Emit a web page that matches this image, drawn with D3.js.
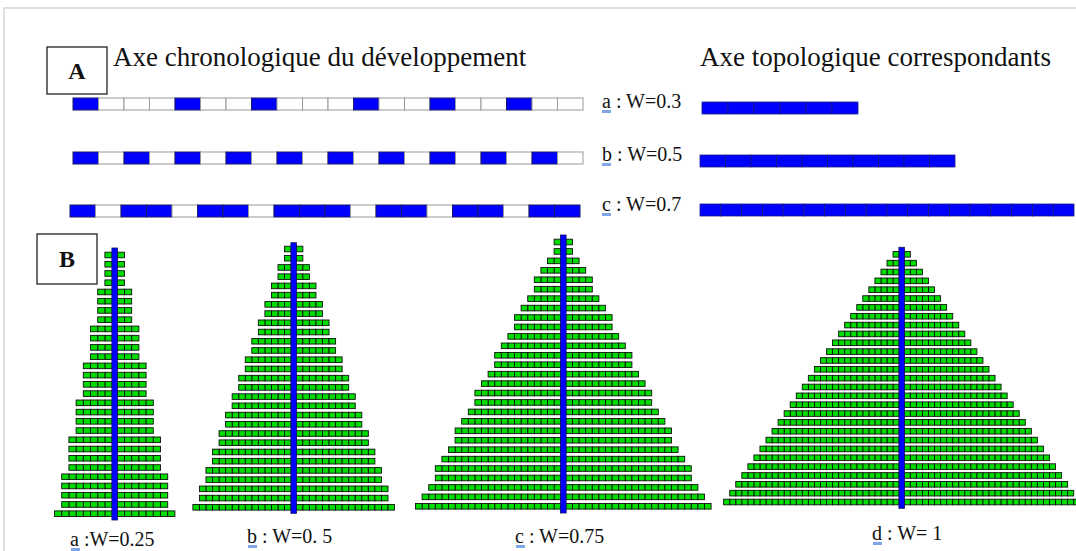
<!DOCTYPE html>
<html>
<head>
<meta charset="utf-8">
<script src="https://cdn.jsdelivr.net/npm/d3@7"></script>
<style>
  body { margin: 0; background: #fff; }
  text { font-family: "Liberation Serif", "Times New Roman", serif; fill: #111; }
</style>
</head>
<body>
<div class="chart"></div>
<script>
// Panel A : chronological axis (1 = blue cell, 0 = white cell)
let chronoRows = ["a", "b", "c"];
let chronoA = [1, 0, 0, 0, 1, 0, 0, 1, 0, 0, 0, 1, 0, 0, 1, 0, 0, 1, 0, 0];
let chronoB = [1, 0, 1, 0, 1, 0, 1, 0, 1, 0, 1, 0, 1, 0, 1, 0, 1, 0, 1, 0];
let chronoC = [1, 0, 1, 1, 0, 1, 1, 0, 1, 1, 1, 0, 1, 1, 0, 1, 1, 0, 1, 1];
let topoCells = [6, 10, 18];
let topoLabels = ["a : W=0.3", "b : W=0.5", "c : W=0.7"];

// Panel B : cells on each side of the axis, row by row from the top
let pyrA = [1, 1, 1, 1, 2, 2, 2, 2, 3, 3, 3, 3, 4, 4, 4, 4, 5, 5, 5, 5, 6, 6, 6, 6, 7, 7, 7, 7, 8];
let pyrB = [1, 1, 2, 2, 3, 3, 4, 4, 5, 5, 6, 6, 7, 7, 8, 8, 9, 9, 10, 10, 11, 11, 12, 12, 13, 13, 14, 14, 15];
let pyrC = [1, 1, 2, 3, 4, 4, 5, 6, 7, 7, 8, 9, 10, 10, 11, 12, 13, 13, 14, 15, 16, 16, 17, 18, 19, 19, 20, 21, 22];
let pyrD = [1, 2, 3, 4, 5, 6, 7, 8, 9, 10, 11, 12, 13, 14, 15, 16, 17, 18, 19, 20, 21, 22, 23, 24, 25, 26, 27, 28, 29];
let pyrLabels = ["a :W=0.25", "b : W=0. 5", "c : W=0.75", "d : W= 1"];

let blue = "#0000ff";
let green = "#00dc00";

let svg = d3
    .select(".chart")
    .append("svg")
    .attr("width", 1076)
    .attr("height", 551)
    .style("display", "block");

// light frame of the figure
svg.append("path")
    .attr("d", "M4,551 V8 H1076")
    .attr("fill", "none")
    .attr("stroke", "#d6d6d6")
    .attr("stroke-width", 1.5);

function letterBox(x, y, w, h, label) {
    svg.append("rect")
        .attr("x", x).attr("y", y)
        .attr("width", w).attr("height", h)
        .attr("fill", "none")
        .attr("stroke", "#222")
        .attr("stroke-width", 1.3);
    svg.append("text")
        .attr("x", x + w / 2)
        .attr("y", y + h / 2 + 8)
        .attr("text-anchor", "middle")
        .style("font-weight", "bold")
        .style("font-size", "24px")
        .text(label);
}

letterBox(47, 47, 60, 47, "A");
letterBox(37, 234, 60, 50, "B");

svg.append("text")
    .attr("x", 113).attr("y", 66)
    .style("font-size", "27px")
    .text("Axe chronologique du développement");

svg.append("text")
    .attr("x", 700).attr("y", 66)
    .style("font-size", "27px")
    .text("Axe topologique correspondants");

// ---- panel A
let chronoData = [chronoA, chronoB, chronoC];
let chronoY = d3.scaleOrdinal().domain(chronoRows).range([98, 152, 205]);
let chronoX = [
    d3.scaleBand().domain(d3.range(20)).range([73, 583]),
    d3.scaleBand().domain(d3.range(20)).range([73, 583]),
    d3.scaleBand().domain(d3.range(20)).range([70, 580])
];
let topoRange = [[702, 858], [700, 955], [700, 1074]];
let topoY = d3.scaleOrdinal().domain(chronoRows).range([102, 155, 204]);
let labelY = d3.scaleOrdinal().domain(chronoRows).range([108, 161, 211]);

chronoRows.forEach(function (key, r) {
    let x = chronoX[r];
    svg.append("g")
        .selectAll("rect")
        .data(chronoData[r])
        .enter()
        .append("rect")
        .attr("x", function (d, i) { return x(i); })
        .attr("y", chronoY(key))
        .attr("width", x.bandwidth())
        .attr("height", 12)
        .attr("fill", function (d) { return d ? blue : "#fff"; })
        .attr("stroke", function (d) { return d ? "#1a1a66" : "#999"; })
        .attr("stroke-width", 1);

    let tx = d3.scaleBand().domain(d3.range(topoCells[r])).range(topoRange[r]);
    svg.append("g")
        .selectAll("rect")
        .data(d3.range(topoCells[r]))
        .enter()
        .append("rect")
        .attr("x", function (d) { return tx(d); })
        .attr("y", topoY(key))
        .attr("width", tx.bandwidth())
        .attr("height", 12)
        .attr("fill", blue)
        .attr("stroke", "#1a1a80")
        .attr("stroke-width", 0.8);

    // spell-check mark under the letter
    svg.append("rect")
        .attr("x", 602).attr("y", labelY(key) + 2)
        .attr("width", 9).attr("height", 3)
        .attr("fill", "#7fa6e6");
    svg.append("text")
        .attr("x", 602).attr("y", labelY(key))
        .style("font-size", "20px")
        .text(topoLabels[r]);
});

// ---- panel B
let pyramids = [
    { rows: pyrA, cx: 114.7, cell: 7.2, top: 255, bottom: 513.7, a0: 248, a1: 520, lx: 70, ly: 546 },
    { rows: pyrB, cx: 293.7, cell: 6.55, top: 249, bottom: 507.3, a0: 242.7, a1: 513.3, lx: 247, ly: 543 },
    { rows: pyrC, cx: 563.3, cell: 6.6, top: 242, bottom: 506.3, a0: 235, a1: 513, lx: 515, ly: 543 },
    { rows: pyrD, cx: 901.7, cell: 6.05, top: 254.3, bottom: 502, a0: 247.3, a1: 508.3, lx: 872, ly: 540 }
];

pyramids.forEach(function (p, k) {
    let y = d3.scaleLinear().domain([0, p.rows.length - 1]).range([p.top, p.bottom]);
    let x = d3.scaleLinear().domain([0, 1]).range([p.cx + 2.6, p.cx + 2.6 + p.cell]);
    let xl = d3.scaleLinear().domain([0, 1]).range([p.cx - 2.6, p.cx - 2.6 - p.cell]);

    let cells = [];
    p.rows.forEach(function (n, r) {
        for (let i = 0; i < n; i++) {
            cells.push({ r: r, i: i, side: 1 });
            cells.push({ r: r, i: i, side: -1 });
        }
    });

    let g = svg.append("g");
    g.selectAll("rect")
        .data(cells)
        .enter()
        .append("rect")
        .attr("x", function (d) { return d.side > 0 ? x(d.i) : xl(d.i + 1); })
        .attr("y", function (d) { return y(d.r) - 2.8; })
        .attr("width", p.cell)
        .attr("height", 5.6)
        .attr("fill", green)
        .attr("stroke", "#111")
        .attr("stroke-width", 0.9);

    g.append("rect")
        .attr("x", p.cx - 2.8)
        .attr("y", p.a0)
        .attr("width", 5.6)
        .attr("height", p.a1 - p.a0)
        .attr("fill", blue)
        .attr("stroke", "#10105a")
        .attr("stroke-width", 0.8);

    svg.append("rect")
        .attr("x", p.lx + 1).attr("y", p.ly + 2)
        .attr("width", 9).attr("height", 3)
        .attr("fill", "#7fa6e6");
    svg.append("text")
        .attr("x", p.lx).attr("y", p.ly)
        .style("font-size", "20px")
        .text(pyrLabels[k]);
});
</script>
</body>
</html>
